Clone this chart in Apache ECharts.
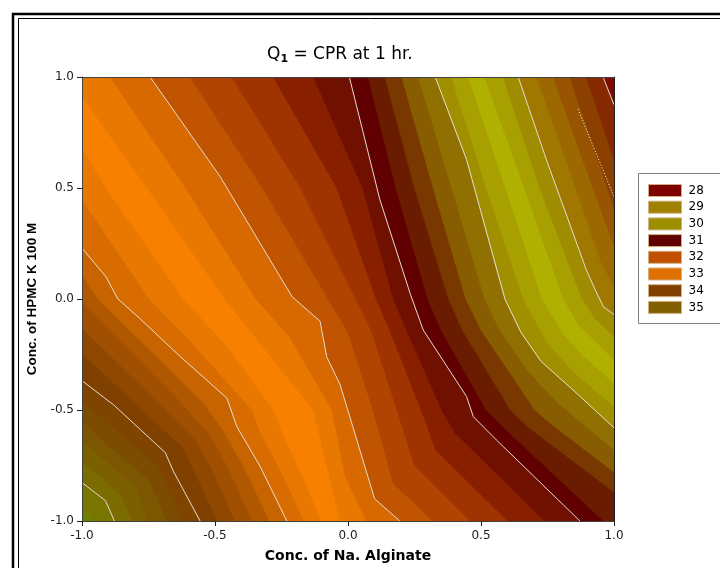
<!DOCTYPE html>
<html>
<head>
<meta charset="utf-8">
<script src="https://cdn.jsdelivr.net/npm/echarts@6/dist/echarts.min.js"></script>
<style>
html, body { margin: 0; padding: 0; background: #fff; }
#chart { width: 720px; height: 568px; }
</style>
</head>
<body>
<div id="chart"></div>
<script>
// contour boundaries, coded units [Na. alginate, HPMC]
// ordered from the lower left corner to the upper right corner
const lv35_2 = [[-1, -0.93], [-0.95, -1]];
const lv35 = [[-1, -0.827], [-0.912, -0.908], [-0.878, -1]];
const lv34_8 = [[-1, -0.735], [-0.93, -0.80], [-0.85, -0.89], [-0.81, -1]];
const lv34_6 = [[-1, -0.64], [-0.93, -0.71], [-0.80, -0.84], [-0.75, -1]];
const lv34_4 = [[-1, -0.55], [-0.92, -0.64], [-0.76, -0.80], [-0.73, -0.86], [-0.68, -1]];
const lv34_2 = [[-1, -0.458], [-0.90, -0.56], [-0.72, -0.75], [-0.69, -0.82], [-0.62, -1]];
const lv34 = [[-1, -0.368], [-0.881, -0.477], [-0.687, -0.692], [-0.656, -0.777], [-0.556, -1]];
const lv33_8 = [[-1, -0.244], [-0.80, -0.47], [-0.62, -0.67], [-0.58, -0.77], [-0.49, -1]];
const lv33_6 = [[-1, -0.13], [-0.72, -0.46], [-0.57, -0.64], [-0.51, -0.77], [-0.425, -1]];
const lv33_4 = [[-1, -0.015], [-0.64, -0.45], [-0.52, -0.61], [-0.45, -0.76], [-0.36, -1]];
const lv33_2 = [[-1, 0.107], [-0.94, 0.0], [-0.55, -0.46], [-0.47, -0.59], [-0.39, -0.76], [-0.295, -1]];
const lv33 = [[-1, 0.229], [-0.91, 0.10], [-0.865, 0.0], [-0.79, -0.08], [-0.63, -0.26], [-0.455, -0.447], [-0.418, -0.575], [-0.33, -0.755], [-0.23, -1]];
const lv32_8 = [[-1, 0.447], [-0.747, 0], [-0.60, -0.18], [-0.36, -0.5], [-0.33, -0.6], [-0.25, -0.78], [-0.165, -1]];
const lv32_6 = [[-1, 0.68], [-0.91, 0.5], [-0.618, 0], [-0.45, -0.22], [-0.28, -0.5], [-0.24, -0.62], [-0.17, -0.8], [-0.10, -1]];
const lv32_4 = [[-1, 0.912], [-0.755, 0.5], [-0.463, 0], [-0.33, -0.2], [-0.13, -0.5], [-0.09, -0.7], [-0.03, -1]];
const lv32_2 = [[-0.894, 1], [-0.61, 0.5], [-0.346, 0], [-0.22, -0.17], [-0.06, -0.5], [-0.01, -0.8], [0.07, -1]];
const lv32 = [[-0.744, 1], [-0.48, 0.55], [-0.21, 0.01], [-0.105, -0.10], [-0.08, -0.26], [-0.03, -0.385], [0.10, -0.90], [0.195, -1]];
const lv31_8 = [[-0.594, 1], [-0.321, 0.5], [-0.075, 0], [0.0, -0.15], [0.094, -0.5], [0.17, -0.83], [0.32, -1]];
const lv31_6 = [[-0.437, 1], [-0.178, 0.5], [0.029, 0], [0.09, -0.15], [0.184, -0.5], [0.25, -0.75], [0.46, -1]];
const lv31_4 = [[-0.281, 1], [-0.042, 0.5], [0.106, 0], [0.16, -0.15], [0.275, -0.5], [0.33, -0.68], [0.60, -1]];
const lv31_2 = [[-0.130, 1], [0.055, 0.5], [0.171, 0], [0.22, -0.14], [0.352, -0.5], [0.40, -0.6], [0.74, -1]];
const lv31 = [[0.005, 1], [0.12, 0.447], [0.235, 0.02], [0.283, -0.14], [0.446, -0.44], [0.471, -0.53], [0.558, -0.635], [0.872, -1]];
const lv30_8 = [[0.076, 1], [0.18, 0.5], [0.30, 0], [0.35, -0.14], [0.52, -0.5], [0.63, -0.63], [0.96, -1]];
const lv30_6 = [[0.139, 1], [0.25, 0.5], [0.378, 0], [0.43, -0.14], [0.611, -0.5], [0.68, -0.58], [1, -0.87]];
const lv30_4 = [[0.202, 1], [0.32, 0.5], [0.443, 0], [0.50, -0.14], [0.702, -0.5], [0.76, -0.56], [1, -0.78]];
const lv30_2 = [[0.264, 1], [0.39, 0.5], [0.514, 0], [0.57, -0.14], [0.68, -0.33], [0.79, -0.47], [1, -0.68]];
const lv30 = [[0.328, 1], [0.446, 0.627], [0.59, 0.0], [0.65, -0.15], [0.725, -0.28], [0.846, -0.41], [1, -0.58]];
const lv29_8 = [[0.389, 1], [0.52, 0.5], [0.66, 0], [0.75, -0.2], [0.85, -0.33], [1, -0.485]];
const lv29_6 = [[0.452, 1], [0.592, 0.5], [0.73, 0], [0.81, -0.16], [0.88, -0.25], [1, -0.38]];
const lv29_4 = [[0.514, 1], [0.663, 0.5], [0.81, 0], [0.87, -0.12], [1, -0.274]];
const lv29_2 = [[0.583, 1], [0.721, 0.5], [0.88, 0], [0.93, -0.09], [1, -0.17]];
const lv29 = [[0.64, 1], [0.746, 0.627], [0.896, 0.131], [0.93, 0.04], [0.96, -0.035], [1, -0.07]];
const lv28_8 = [[0.709, 1], [0.857, 0.5], [0.95, 0.17], [1, 0.06]];
const lv28_6 = [[0.771, 1], [0.921, 0.5], [1, 0.24]];
const lv28_4 = [[0.834, 1], [0.975, 0.5], [1, 0.41]];
const lv28_2 = [[0.896, 1], [1, 0.63]];
const lv28 = [[0.959, 1], [1, 0.875]];
const dottedTrace = [[0.865, 0.855], [1, 0.46]];

const boundaries = [lv35_2, lv35, lv34_8, lv34_6, lv34_4, lv34_2, lv34, lv33_8, lv33_6, lv33_4, lv33_2,
    lv33, lv32_8, lv32_6, lv32_4, lv32_2, lv32, lv31_8, lv31_6, lv31_4, lv31_2, lv31,
    lv30_8, lv30_6, lv30_4, lv30_2, lv30, lv29_8, lv29_6, lv29_4, lv29_2, lv29,
    lv28_8, lv28_6, lv28_4, lv28_2, lv28];
const whiteLines = [lv35, lv34, lv33, lv32, lv31, lv30, lv29, lv28];

// fill colour of each band, from the lower left corner upwards
const bandColors = [
    '#6f7f00', '#787600', '#7c6c00', '#7c6000', '#7c5600', '#7c4c00', '#7e4400',
    '#804000', '#904800', '#a05000', '#b05800', '#c86400',
    '#d86c00', '#e87800', '#f88000', '#e87800', '#d86800',
    '#c05400', '#b04400', '#a03400', '#882000', '#701000',
    '#600000', '#6a1c00', '#783800', '#885c00', '#907000',
    '#a09000', '#a8a000', '#b0b000', '#a8a000', '#a08c00',
    '#a07800', '#9c6800', '#985400', '#8c4000', '#862800', '#800800'
];

const legendNames = ['28', '29', '30', '31', '32', '33', '34', '35'];
const legendColors = ['#7f0000', '#a08000', '#9c9000', '#600000', '#c05000', '#e07000', '#804000', '#806000'];

// position along the square's edge, clockwise from the top left corner
function edgePos(p) {
    const e = 1e-6;
    if (Math.abs(p[1] - 1) < e) return p[0] + 1;
    if (Math.abs(p[0] - 1) < e) return 2 + (1 - p[1]);
    if (Math.abs(p[1] + 1) < e) return 4 + (1 - p[0]);
    return 6 + (p[1] + 1);
}
const corners = [[4, [1, -1]], [2, [1, 1]], [0, [-1, 1]]];

// the part of the square lying above / right of a boundary
function regionAbove(line) {
    let t0 = edgePos(line[0]);
    const t1 = edgePos(line[line.length - 1]);
    if (t0 > t1) t0 -= 8;
    const pts = line.slice();
    corners.forEach(function (c) {
        if (c[0] < t1 && c[0] > t0) pts.push(c[1]);
    });
    return pts;
}

const chart = echarts.init(document.getElementById('chart'), null, { renderer: 'canvas' });

const font = 'DejaVu Sans';

const series = [{
    type: 'custom',
    coordinateSystem: 'cartesian2d',
    clip: true,
    silent: true,
    animation: false,
    z: 1,
    data: bandColors.map(function (c, i) { return [0, 0, i]; }),
    renderItem: function (params, api) {
        const i = params.dataIndex;
        const pts = i === 0 ? [[-1, 1], [1, 1], [1, -1], [-1, -1]] : regionAbove(boundaries[i - 1]);
        return {
            type: 'polygon',
            shape: { points: pts.map(function (p) { return api.coord(p); }) },
            style: { fill: bandColors[i], stroke: bandColors[i], lineWidth: 0.6 }
        };
    }
}];

whiteLines.forEach(function (line) {
    series.push({
        type: 'line',
        data: line,
        symbol: 'none',
        silent: true,
        animation: false,
        clip: true,
        z: 3,
        lineStyle: { color: '#e6ddd2', width: 1 }
    });
});
series.push({
    type: 'line',
    data: dottedTrace,
    symbol: 'none',
    silent: true,
    animation: false,
    z: 3,
    lineStyle: { color: '#ffffff', width: 1, type: [1, 2] }
});

legendNames.forEach(function (name, i) {
    series.push({
        type: 'line',
        name: name,
        data: [],
        itemStyle: { color: legendColors[i] },
        lineStyle: { color: legendColors[i] }
    });
});

const fmt = function (v) { return v.toFixed(1); };
const edgeLine = { onZero: false, lineStyle: { color: '#404040', width: 1 } };

chart.setOption({
    backgroundColor: '#ffffff',
    animation: false,
    title: {
        text: '{q|Q}{s|1}{q| = CPR at 1 hr.}',
        left: 262,
        top: 40,
        textStyle: {
            fontWeight: 'normal',
            rich: {
                q: { fontFamily: font, fontSize: 17, fontWeight: 'normal', color: '#000' },
                s: { fontFamily: font, fontSize: 11, fontWeight: 'bold', color: '#000', padding: [9, 0, 0, 0] }
            }
        }
    },
    legend: {
        data: legendNames,
        orient: 'vertical',
        left: 648,
        top: 184,
        padding: 0,
        icon: 'rect',
        itemWidth: 33,
        itemHeight: 12,
        itemGap: 3.7,
        itemStyle: { borderColor: '#d0b080', borderWidth: 1 },
        textStyle: { fontFamily: font, fontSize: 12, color: '#000', padding: [0, 0, 0, 2] },
        selectedMode: false
    },
    graphic: [
        { type: 'rect', shape: { x: 13, y: 14, width: 900, height: 900 }, style: { fill: null, stroke: '#000', lineWidth: 2.5 } },
        { type: 'rect', shape: { x: 18.5, y: 18.5, width: 900, height: 900 }, style: { fill: null, stroke: '#000', lineWidth: 1 } },
        { type: 'rect', shape: { x: 638.5, y: 173.5, width: 100, height: 150 }, style: { fill: null, stroke: '#808080', lineWidth: 1 } }
    ],
    grid: { left: 82, top: 77, width: 532, height: 444 },
    xAxis: [{
        type: 'value', min: -1, max: 1, interval: 0.5, position: 'bottom', z: 10,
        axisLine: edgeLine,
        axisTick: { length: 5, lineStyle: { color: '#202020' } },
        axisLabel: { formatter: fmt, fontFamily: font, fontSize: 12, color: '#222', margin: 9 },
        splitLine: { show: false },
        name: 'Conc. of Na. Alginate',
        nameLocation: 'middle',
        nameGap: 28,
        nameTextStyle: { fontFamily: font, fontSize: 14, fontWeight: 'bold', color: '#000' }
    }, {
        type: 'value', min: -1, max: 1, position: 'top', z: 10,
        axisLine: edgeLine,
        axisTick: { show: false }, axisLabel: { show: false }, splitLine: { show: false }
    }],
    yAxis: [{
        type: 'value', min: -1, max: 1, interval: 0.5, position: 'left', z: 10,
        axisLine: edgeLine,
        axisTick: { length: 5, lineStyle: { color: '#202020' } },
        axisLabel: { formatter: fmt, fontFamily: font, fontSize: 12, color: '#222', margin: 8 },
        splitLine: { show: false },
        name: 'Conc. of HPMC K 100 M',
        nameLocation: 'middle',
        nameGap: 43,
        nameTextStyle: { fontFamily: 'Liberation Sans', fontSize: 13.5, fontWeight: 'bold', color: '#000' }
    }, {
        type: 'value', min: -1, max: 1, position: 'right', z: 10,
        axisLine: { onZero: false, lineStyle: { color: '#202020', width: 1 } },
        axisTick: { show: false }, axisLabel: { show: false }, splitLine: { show: false }
    }],
    series: series
});
</script>
</body>
</html>
